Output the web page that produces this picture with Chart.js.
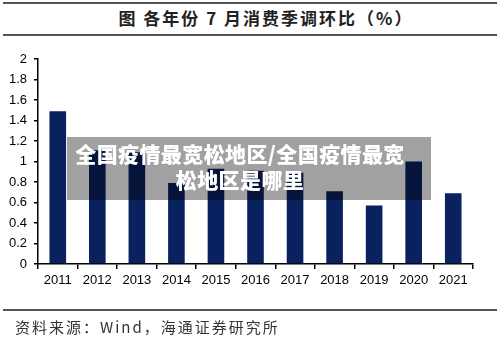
<!DOCTYPE html>
<html>
<head>
<meta charset="utf-8">
<script src="https://cdn.jsdelivr.net/npm/chart.js@4.4.0/dist/chart.umd.min.js"></script>
<style>
  html, body { margin: 0; padding: 0; background: #fff; }
  #wrap { position: relative; width: 500px; height: 337px; overflow: hidden; }
  .rule { position: absolute; left: 3px; width: 494px; height: 2px; background: #555; }
  #title {
    position: absolute; left: 16px; top: 6px; width: 500px; text-align: center;
    font-family: "Noto Sans CJK SC", sans-serif; font-size: 17px; font-weight: 700;
    color: #222; line-height: 24px; letter-spacing: 2px; white-space: pre;
  }
  #source {
    position: absolute; left: 15px; top: 317px;
    font-family: "Noto Sans CJK SC", sans-serif; font-size: 15px; color: #333;
    line-height: 20px; letter-spacing: 2px;
  }
  #chart-box { position: absolute; left: 0; top: 0; width: 500px; height: 337px; }
  #mask {
    position: absolute; left: 67px; top: 137px; width: 364px; height: 63px;
    background: rgba(0, 0, 0, 0.37);
  }
  #mask-text {
    position: absolute; left: 40px; top: 140px; width: 400px; text-align: center;
    font-family: "Noto Sans CJK SC", sans-serif; font-size: 21px; font-weight: 900;
    color: #fff; line-height: 26px; letter-spacing: 0.4px;
  }
</style>
</head>
<body>
<div id="wrap">
  <div class="rule" style="top:2px"></div>
  <div id="title">图 各年份 7 月消费季调环比（%）</div>
  <div class="rule" style="top:34px"></div>
  <div id="chart-box"><canvas id="chart"></canvas></div>
  <div id="mask"></div>
  <div id="mask-text">全国疫情最宽松地区/全国疫情最宽<br>松地区是哪里</div>
  <div class="rule" style="top:309px"></div>
  <div id="source">资料来源：Wind，海通证券研究所</div>
</div>
<script>
// July month-on-month retail sales growth, seasonally adjusted (%)
const years = ['2011', '2012', '2013', '2014', '2015', '2016', '2017', '2018', '2019', '2020', '2021'];
const momGrowth = [1.49, 1.11, 1.09, 0.79, 0.93, 0.91, 0.89, 0.71, 0.57, 1.00, 0.69];
const yMin = 0;
const yMax = 2;
const yStep = 0.2;

const axisFont = { family: 'Arial, "Liberation Sans", sans-serif', size: 13 };

new Chart(document.getElementById('chart').getContext('2d'), {
    type: 'bar',
    data: {
        labels: years,
        datasets: [{
            data: momGrowth,
            backgroundColor: '#0a2160',
            borderWidth: 0,
            categoryPercentage: 1,
            barPercentage: 0.42
        }]
    },
    options: {
        responsive: true,
        maintainAspectRatio: false,
        animation: false,
        layout: { padding: { left: 0, right: 27, top: 59, bottom: 48 } },
        plugins: {
            legend: { display: false },
            tooltip: { enabled: false }
        },
        scales: {
            x: {
                grid: {
                    display: true,
                    drawOnChartArea: false,
                    drawTicks: true,
                    tickLength: 5,
                    color: '#000',
                    lineWidth: 1.5
                },
                border: { color: '#000', width: 1.5 },
                ticks: { color: '#000', font: axisFont, padding: 4, maxRotation: 0 },
                afterFit: scale => { scale.height = 25; }
            },
            y: {
                min: yMin,
                max: yMax,
                grid: {
                    display: true,
                    drawOnChartArea: false,
                    drawTicks: true,
                    tickLength: 4,
                    color: '#000',
                    lineWidth: 1.5
                },
                border: { color: '#000', width: 1.5 },
                ticks: {
                    stepSize: yStep,
                    color: '#000',
                    font: axisFont,
                    padding: 7,
                    callback: v => Number(v.toFixed(1)).toString()
                },
                afterFit: scale => { scale.width = 38; }
            }
        }
    }
});
</script>
</body>
</html>
